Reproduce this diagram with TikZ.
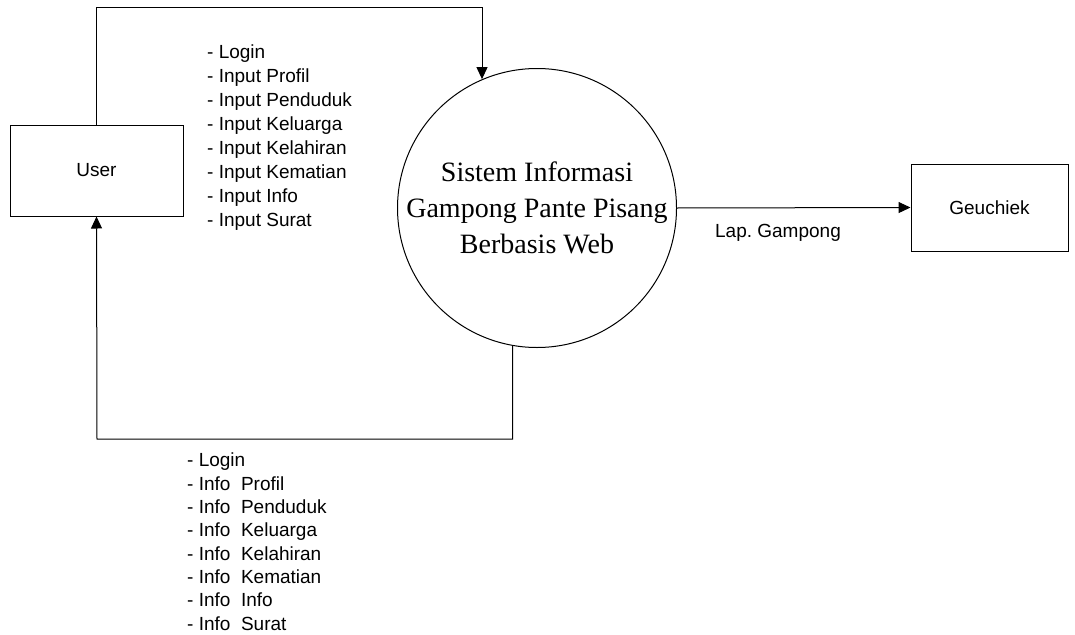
\documentclass[tikz,border=0pt]{standalone}
\usepackage{fontspec}
\setmainfont{Liberation Serif}
\setsansfont{Liberation Sans}
\usetikzlibrary{arrows.meta}

\begin{document}
\begin{tikzpicture}[x=1pt,y=-1pt,
		entity/.style={draw,line width=1pt,rectangle,inner sep=0pt,
			font=\sffamily\fontsize{19}{24}\selectfont},
		process/.style={draw,line width=1pt,circle,minimum size=279pt,inner sep=0pt,
			align=center,font=\fontsize{28}{36}\selectfont},
		flow/.style={line width=1pt,-{Triangle[length=12pt,width=11pt]}},
		lbl/.style={inner sep=0pt,align=left,font=\sffamily\fontsize{19}{24}\selectfont}]
		\useasboundingbox (0,0) rectangle (1075,634);
		% entities and process
		\node[entity,minimum width=173pt,minimum height=91pt] (user) at (96.5,170.5) {User};
		\node[process] (sys) at (537,208) {Sistem Informasi\\Gampong Pante Pisang\\Berbasis Web};
		\node[entity,minimum width=157pt,minimum height=87pt] (geu) at (989.5,207.5) {Geuchiek};
		\coordinate (top) at (482,8);
		\coordinate (bot) at (97,439);
		% flows
		\draw[flow] (user.north) |- (top) -- (top |- sys.113.2);
		\draw[flow] (sys.260.5) |- (bot) -- (user.south);
		\draw[flow] (sys.east) -- (geu.west);
		% labels
		\node[lbl,anchor=north west] (inlist) at (207,45) {- Login\\- Input Profil\\- Input Penduduk\\- Input Keluarga\\- Input Kelahiran\\- Input Kematian\\- Input Info\\- Input Surat};
		\node[lbl,anchor=north west,font=\sffamily\fontsize{19}{23.3}\selectfont] (outlist) at (187,453) {- Login\\- Info\ \ Profil\\- Info\ \ Penduduk\\- Info\ \ Keluarga\\- Info\ \ Kelahiran\\- Info\ \ Kematian\\- Info\ \ Info\\- Info\ \ Surat};
		\node[lbl] (lap) at (778,233) {Lap.\ Gampong};
	\end{tikzpicture}
\end{document}
